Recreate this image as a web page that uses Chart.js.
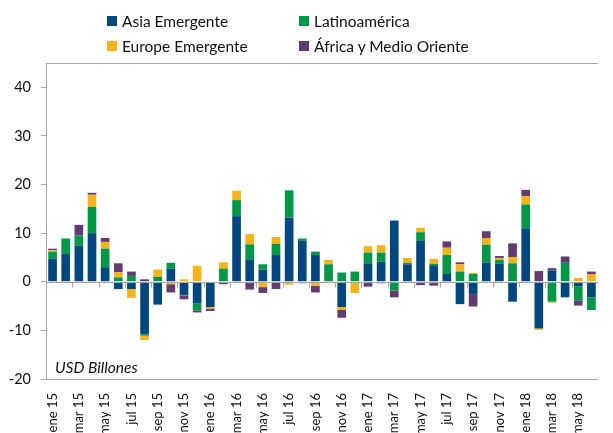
<!DOCTYPE html>
<html>
<head>
<meta charset="utf-8">
<script src="https://cdn.jsdelivr.net/npm/chart.js@4.4.1/dist/chart.umd.min.js"></script>
<style>
  html, body { margin: 0; padding: 0; background: #fff; }
  #wrap { position: relative; width: 613px; height: 433px; }
  canvas { position: absolute; left: 0; top: 0; }
  .lg { position: absolute; font-family: Lato, "Noto Sans", sans-serif; font-size: 15.5px; color: #111; white-space: nowrap; line-height: 16px; }
  .sq { position: absolute; width: 10px; height: 10px; }
  #unit { position: absolute; left: 55px; top: 358px; font-family: Lato, sans-serif; font-style: italic; font-size: 15.5px; color: #111; }
</style>
</head>
<body>
<div id="wrap">
  <canvas id="c" width="613" height="433"></canvas>
  <div id="legend"></div>
  <div id="unit">USD Billones</div>
</div>
<script>
const categories = [
  "ene 15","feb 15","mar 15","abr 15","may 15","jun 15","jul 15","ago 15","sep 15","oct 15","nov 15","dic 15",
  "ene 16","feb 16","mar 16","abr 16","may 16","jun 16","jul 16","ago 16","sep 16","oct 16","nov 16","dic 16",
  "ene 17","feb 17","mar 17","abr 17","may 17","jun 17","jul 17","ago 17","sep 17","oct 17","nov 17","dic 17",
  "ene 18","feb 18","mar 18","abr 18","may 18","jun 18"
];
const asiaEmergente = [4.8,5.7,7.4,10.0,3.0,-1.5,-1.5,-10.8,-4.7,2.7,-2.7,-4.4,
  -5.2,0,13.5,4.5,2.5,5.5,13.2,8.4,5.5,0,-5.2,0,
  3.8,4.1,12.6,3.6,8.4,3.4,1.6,-4.6,-2.5,3.9,3.7,-4.1,
  11.0,-9.6,2.3,-3.2,-0.9,-3.2];
const latinoamerica = [1.4,3.2,2.1,5.4,3.8,0.9,1.2,-0.3,1.0,1.2,-0.1,-1.5,
  0,2.7,3.3,3.2,1.1,2.3,5.6,0.5,0.7,3.6,1.9,2.1,
  2.2,1.9,-1.8,0.3,1.8,0.3,3.9,2.1,1.6,3.7,0.8,3.8,
  4.9,0.1,-4.1,3.9,-3.0,-2.6];
const europeEmergente = [0.3,-0.1,-0.1,2.5,1.4,1.1,-1.8,-0.9,1.5,-0.5,0.5,3.3,
  -0.3,1.3,1.9,2.1,-1.1,1.4,-0.6,0,-0.8,0.9,-0.6,-2.3,
  1.3,1.5,0,1.0,0.9,1.0,1.5,1.5,0.2,1.4,0.4,1.3,
  1.7,-0.3,-0.2,0,0.8,1.6];
const africaMedioOriente = [0.3,0,2.2,0.4,0.8,1.8,0.9,0.5,0,-1.7,-0.8,-0.4,
  -0.5,-0.5,0,-1.6,-1.2,-1.5,0,-0.3,-1.4,0,-1.6,0,
  -1.0,-0.3,-1.4,-0.2,-0.7,-0.8,1.3,0.4,-2.6,1.4,0.4,2.8,
  1.3,2.1,0.5,1.3,-1.0,0.5];
const yTickValues = [-20,-10,0,10,20,30,40,45];
const seriesNames = ["Asia Emergente","Latinoamérica","Europe Emergente","África y Medio Oriente"];
const seriesColors = ["#00467F","#009846","#F5B21A","#623B72"];

// HTML legend (2 columns, row-major)
const legendPos = [[107,15],[299,15],[107,40],[299,40]];
const legendOrder = [0,1,2,3];
const lg = document.getElementById('legend');
legendOrder.forEach((si, k) => {
  const [x, y] = legendPos[k];
  const sq = document.createElement('div');
  sq.className = 'sq'; sq.style.left = x + 'px'; sq.style.top = (y + 1) + 'px';
  sq.style.background = seriesColors[si];
  lg.appendChild(sq);
  const t = document.createElement('div');
  t.className = 'lg'; t.style.left = (x + 15) + 'px'; t.style.top = (y - 2) + 'px';
  t.textContent = seriesNames[si];
  lg.appendChild(t);
});

const AXIS = '#A6A6A6';
const overlay = {
  id: 'overlay',
  afterDatasetsDraw(chart) {
    const {ctx, chartArea, scales: {x, y}} = chart;
    const y0 = Math.round(y.getPixelForValue(0)) + 0.5;
    ctx.save();
    ctx.strokeStyle = AXIS; ctx.lineWidth = 1;
    ctx.beginPath();
    ctx.moveTo(chartArea.left, y0); ctx.lineTo(chartArea.right, y0);
    for (let i = 2; i < categories.length; i += 2) {
      const xp = Math.round((x.getPixelForValue(i - 1) + x.getPixelForValue(i)) / 2) + 0.5;
      ctx.moveTo(xp, y0); ctx.lineTo(xp, y0 + 5);
    }
    // top border of plot area
    const yt = Math.round(chartArea.top) + 0.5;
    ctx.moveTo(chartArea.left, yt); ctx.lineTo(chartArea.right, yt);
    ctx.stroke();
    ctx.restore();
  }
};

new Chart(document.getElementById('c'), {
  type: 'bar',
  data: {
    labels: categories,
    datasets: [asiaEmergente, latinoamerica, europeEmergente, africaMedioOriente].map((d, i) => ({
      label: seriesNames[i],
      data: d,
      backgroundColor: seriesColors[i],
      borderWidth: 0,
      barPercentage: 0.66,
      categoryPercentage: 1.0
    }))
  },
  options: {
    responsive: false,
    animation: false,
    devicePixelRatio: 1,
    layout: { padding: { left: 0, right: 0, top: 63, bottom: 0 } },
    plugins: { legend: { display: false }, tooltip: { enabled: false } },
    scales: {
      x: {
        stacked: true,
        grid: { display: false },
        border: { display: true, color: AXIS, width: 1 },
        ticks: {
          autoSkip: false, maxRotation: 90, minRotation: 90, padding: 6,
          color: '#111',
          font: { family: 'Lato', size: 13 },
          callback: (v, i) => (i % 2 === 0 ? categories[i] : '')
        },
        afterFit: (s) => { s.height = 54; }
      },
      y: {
        stacked: true,
        min: -20, max: 45,
        afterBuildTicks: (s) => { s.ticks = yTickValues.map(v => ({ value: v })); },
        grid: {
          drawOnChartArea: false,
          drawTicks: true,
          tickLength: 5,
          tickColor: (c) => (c.tick && c.tick.value === 45 ? 'rgba(0,0,0,0)' : AXIS)
        },
        border: { display: true, color: AXIS, width: 1 },
        ticks: {
          padding: 10,
          color: '#111',
          font: { family: 'Lato', size: 14.5 },
          callback: (v) => (v % 10 === 0 ? String(v) : '')
        },
        afterFit: (s) => { s.width = 46; }
      }
    }
  },
  plugins: [overlay]
});
</script>
</body>
</html>
